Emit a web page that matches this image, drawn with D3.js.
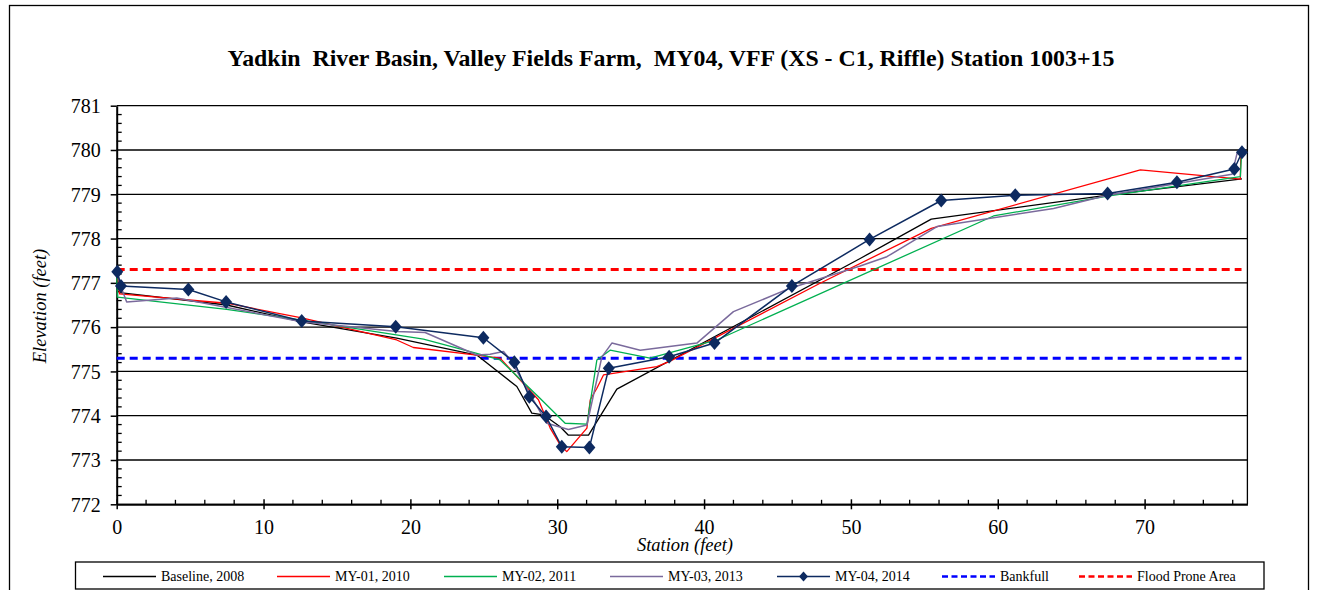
<!DOCTYPE html>
<html>
<head>
<meta charset="utf-8">
<script src="https://cdn.jsdelivr.net/npm/d3@7"></script>
<style>
  html, body { margin: 0; padding: 0; background: #fff; }
  svg { display: block; }
  text { white-space: pre; font-family: "Liberation Serif", "Times New Roman", "DejaVu Serif", serif; }
</style>
</head>
<body>
<svg id="chart" width="1317" height="590"></svg>
<script>
// Cross-section survey data: station (ft) and elevation (ft)
const baseline2008 = [
  [0, 777.2], [0.2, 776.78], [7.49, 776.5], [12.6, 776.12], [19.07, 775.75],
  [24.52, 775.37], [27.25, 774.66], [28.27, 774.06], [29.06, 774.02], [30.2, 773.75],
  [30.76, 773.56], [32.13, 773.56], [34.06, 774.6], [50.63, 777.55], [55.47, 778.44],
  [67.48, 778.98], [76.63, 779.35]
];
const my01_2010 = [
  [0, 777.25], [0.2, 776.75], [7.49, 776.54], [12.6, 776.21], [19.07, 775.71],
  [20.2, 775.54], [24.52, 775.37], [26.11, 775.3], [28.72, 774.36], [29.52, 773.72],
  [30.2, 773.34], [30.65, 773.19], [32.02, 773.72], [32.25, 774.36], [32.7, 774.62],
  [33.15, 774.92], [36.78, 775.11], [37.62, 775.22], [47.9, 776.99], [55.47, 778.23],
  [69.71, 779.55], [76.52, 779.34], [76.55, 779.85]
];
const my02_2011 = [
  [0, 777.2], [0.05, 776.68], [7.49, 776.4], [12.6, 776.16], [20.89, 775.73],
  [24.52, 775.41], [26.11, 775.26], [28.72, 774.43], [30.54, 773.83], [32.02, 773.81],
  [32.7, 775.26], [33.6, 775.48], [36.32, 775.3], [40.87, 775.71], [59.71, 778.51],
  [67.48, 778.96], [76.52, 779.4], [76.6, 779.9]
];
const my03_2013 = [
  [0, 777.25], [0.3, 776.9], [0.68, 776.57], [4.09, 776.66], [12.6, 776.12],
  [19.07, 775.9], [21.0, 775.88], [24.52, 775.37], [25.43, 775.39], [26.34, 775.45],
  [26.79, 775.27], [29.29, 773.83], [30.76, 773.69], [32.02, 773.79], [33.04, 775.33],
  [33.72, 775.64], [35.65, 775.48], [39.51, 775.64], [42.0, 776.35], [45.86, 776.88],
  [50.63, 777.38], [52.45, 777.59], [55.86, 778.27], [63.8, 778.68], [67.48, 778.98],
  [75.95, 779.45], [76.3, 779.93], [76.6, 779.9]
];
const my04_2014 = [
  [0.04, 777.25], [0.29, 776.93], [4.88, 776.85], [7.45, 776.57], [12.6, 776.14],
  [19.0, 776.01], [24.97, 775.76], [27.08, 775.21], [28.1, 774.43], [29.24, 773.98],
  [30.31, 773.3], [32.19, 773.28], [33.51, 775.07], [37.62, 775.33], [40.71, 775.64],
  [45.98, 776.93], [51.27, 777.98], [56.15, 778.86], [61.19, 778.98], [67.48, 779.02],
  [72.2, 779.27], [76.11, 779.57], [76.63, 779.95]
];
const bankfullElev = 775.3;
const floodProneElev = 777.3;
const stationExtent = [0, 76.6];

const xTicks = [0, 10, 20, 30, 40, 50, 60, 70];
const yTicks = [772, 773, 774, 775, 776, 777, 778, 779, 780, 781];

const titleText = "Yadkin  River Basin, Valley Fields Farm,  MY04, VFF (XS - C1, Riffle) Station 1003+15";

const seriesList = [
  { name: "Baseline, 2008", data: baseline2008, color: "#000000", width: 1.3 },
  { name: "MY-01, 2010", data: my01_2010, color: "#FF0000", width: 1.3 },
  { name: "MY-02, 2011", data: my02_2011, color: "#00B050", width: 1.3 },
  { name: "MY-03, 2013", data: my03_2013, color: "#7A6A9C", width: 1.5 },
  { name: "MY-04, 2014", data: my04_2014, color: "#0D2A60", width: 1.5, marker: true }
];

const SERIF = "Liberation Serif, Times New Roman, DejaVu Serif, serif";
const svg = d3.select("#chart");

const x = d3.scaleLinear().domain([0, 77]).range([116.7, 1247.4]);
const y = d3.scaleLinear().domain([772, 781]).range([504.3, 105.7]);

// outer chart frame
svg.append("rect")
  .attr("x", 9.5).attr("y", 5.5).attr("width", 1299).attr("height", 620)
  .attr("fill", "none").attr("stroke", "#000").attr("stroke-width", 1.3);

// title, sized to span its box
const title = svg.append("text")
  .attr("x", 671).attr("y", 66)
  .attr("text-anchor", "middle")
  .attr("font-family", SERIF)
  .attr("font-weight", "bold").attr("font-size", 20)
  .text(titleText);
const titleLen = title.node().getComputedTextLength();
if (titleLen > 0) title.attr("font-size", Math.min(24, 20 * 887 / titleLen));

// horizontal gridlines
svg.append("g").selectAll("line").data(yTicks).join("line")
  .attr("x1", x(0)).attr("x2", x(77))
  .attr("y1", d => y(d)).attr("y2", d => y(d))
  .attr("stroke", "#000").attr("stroke-width", 1.3);

// right plot border
svg.append("line")
  .attr("x1", x(77)).attr("x2", x(77)).attr("y1", y(781)).attr("y2", y(772))
  .attr("stroke", "#000").attr("stroke-width", 1.3);

// y axis: major ticks outside, minor ticks inside
const yAxis = svg.append("g").attr("transform", `translate(${x(0)},0)`)
  .call(d3.axisLeft(y).tickValues(yTicks).tickSize(6).tickSizeOuter(0).tickFormat(d3.format("d")));
yAxis.attr("font-family", SERIF);
yAxis.select(".domain").attr("stroke-width", 2);
yAxis.selectAll(".tick line").attr("stroke-width", 1.5);
yAxis.selectAll(".tick text")
  .attr("font-family", SERIF).attr("font-size", 20).attr("x", -16).attr("dy", "0.34em");

const yMinor = d3.range(772, 781.001, 0.2).filter(v => Math.abs(v - Math.round(v)) > 0.01);
svg.append("g").selectAll("line").data(yMinor).join("line")
  .attr("x1", x(0)).attr("x2", x(0) + 5)
  .attr("y1", d => y(d)).attr("y2", d => y(d))
  .attr("stroke", "#000").attr("stroke-width", 1.3);

// x axis: major ticks crossing, minor ticks inside
const xAxis = svg.append("g").attr("transform", `translate(0,${y(772)})`)
  .call(d3.axisBottom(x).tickValues(xTicks).tickSize(5).tickSizeOuter(0).tickFormat(d3.format("d")));
xAxis.attr("font-family", SERIF);
xAxis.select(".domain").attr("stroke-width", 2);
xAxis.selectAll(".tick line").attr("y1", -5).attr("stroke-width", 1.5);
xAxis.selectAll(".tick text")
  .attr("font-family", SERIF).attr("font-size", 20).attr("y", 16).attr("dy", "0.71em");

const xMinor = d3.range(2, 77, 2).filter(v => v % 10 !== 0);
svg.append("g").selectAll("line").data(xMinor).join("line")
  .attr("x1", d => x(d)).attr("x2", d => x(d))
  .attr("y1", y(772)).attr("y2", y(772) - 4.5)
  .attr("stroke", "#000").attr("stroke-width", 1.3);

// axis titles
svg.append("text")
  .attr("x", 685).attr("y", 551)
  .attr("text-anchor", "middle").attr("font-family", SERIF)
  .attr("font-style", "italic").attr("font-size", 18.5)
  .text("Station (feet)");
svg.append("text")
  .attr("transform", "translate(46,306) rotate(-90)")
  .attr("text-anchor", "middle").attr("font-family", SERIF)
  .attr("font-style", "italic").attr("font-size", 18.5)
  .text("Elevation (feet)");

const plot = svg.append("g");

// reference elevations
plot.append("line")
  .attr("x1", x(stationExtent[0])).attr("x2", x(stationExtent[1]))
  .attr("y1", y(bankfullElev)).attr("y2", y(bankfullElev))
  .attr("stroke", "#0000FF").attr("stroke-width", 3).attr("stroke-dasharray", "8,5");
plot.append("line")
  .attr("x1", x(stationExtent[0])).attr("x2", x(stationExtent[1]))
  .attr("y1", y(floodProneElev)).attr("y2", y(floodProneElev))
  .attr("stroke", "#FF0000").attr("stroke-width", 3).attr("stroke-dasharray", "8,5");

const line = d3.line().x(d => x(d[0])).y(d => y(d[1]));
const diamond = "M0,-7L6,0L0,7L-6,0Z";

seriesList.forEach(s => {
  plot.append("path")
    .datum(s.data)
    .attr("d", line)
    .attr("fill", "none")
    .attr("stroke", s.color)
    .attr("stroke-width", s.width)
    .attr("stroke-linejoin", "round");
  if (s.marker) {
    plot.append("g").selectAll("path").data(s.data).join("path")
      .attr("d", diamond)
      .attr("transform", d => `translate(${x(d[0])},${y(d[1])})`)
      .attr("fill", s.color);
  }
});

// legend
const legend = svg.append("g");
legend.append("rect")
  .attr("x", 75.5).attr("y", 562).attr("width", 1188.5).attr("height", 27)
  .attr("fill", "#fff").attr("stroke", "#000").attr("stroke-width", 1.3);

const legendItems = [
  { name: seriesList[0].name, color: seriesList[0].color, x0: 103 },
  { name: seriesList[1].name, color: seriesList[1].color, x0: 277 },
  { name: seriesList[2].name, color: seriesList[2].color, x0: 444 },
  { name: seriesList[3].name, color: seriesList[3].color, x0: 610 },
  { name: seriesList[4].name, color: seriesList[4].color, x0: 777, marker: true },
  { name: "Bankfull", color: "#0000FF", x0: 942, dashed: true },
  { name: "Flood Prone Area", color: "#FF0000", x0: 1079, dashed: true }
];
const ly = 576.5;
legendItems.forEach(it => {
  legend.append("line")
    .attr("x1", it.x0).attr("x2", it.x0 + 53)
    .attr("y1", ly).attr("y2", ly)
    .attr("stroke", it.color)
    .attr("stroke-width", it.dashed ? 2.5 : 1.4)
    .attr("stroke-dasharray", it.dashed ? "6,3.5" : null);
  if (it.marker) {
    legend.append("path")
      .attr("d", "M0,-5L4.5,0L0,5L-4.5,0Z")
      .attr("transform", `translate(${it.x0 + 26.5},${ly})`)
      .attr("fill", it.color);
  }
  legend.append("text")
    .attr("x", it.x0 + 58).attr("y", ly + 4.5)
    .attr("font-family", SERIF)
    .attr("font-size", 14)
    .text(it.name);
});
</script>
</body>
</html>
